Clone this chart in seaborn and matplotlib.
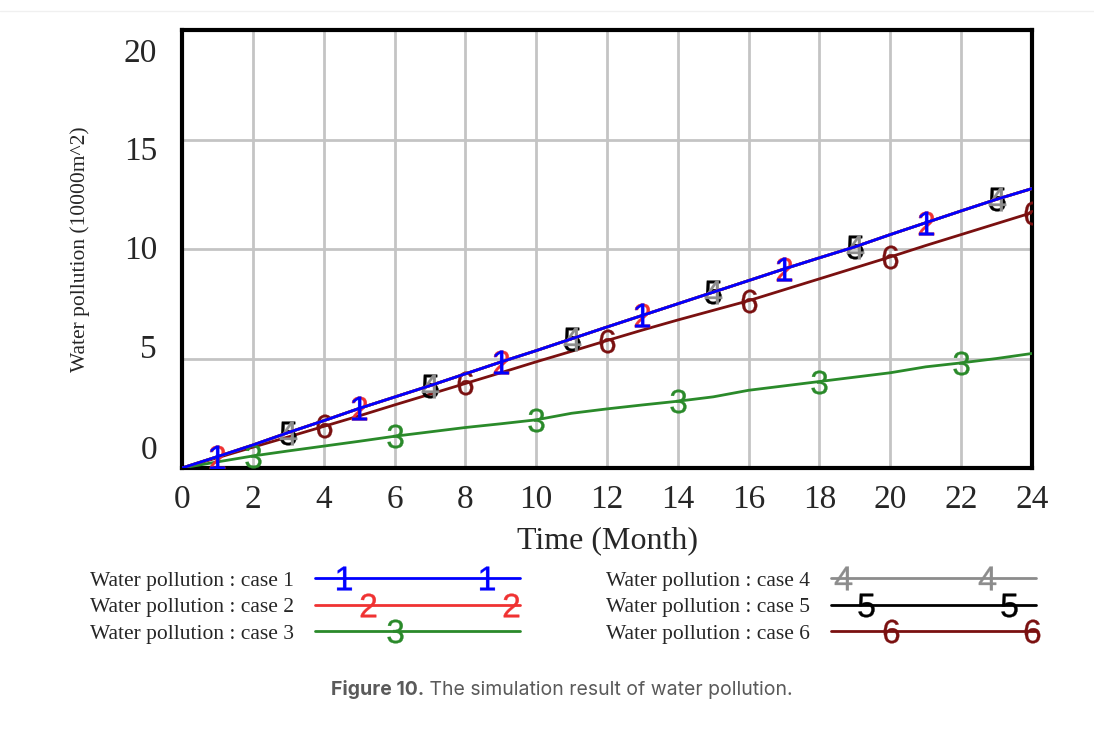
import numpy as np
import pandas as pd
import matplotlib.pyplot as plt
import matplotlib.transforms as mtransforms
from matplotlib.legend_handler import HandlerLine2D
from matplotlib.lines import Line2D
import seaborn as sns

# data (months 0..24)
months = list(range(25))
case1 = [0, 0.52, 1.05, 1.62, 2.16, 2.72, 3.24, 3.76, 4.30, 4.84, 5.36, 5.90, 6.44,
         6.97, 7.50, 8.03, 8.56, 9.09, 9.60, 10.10, 10.66, 11.20, 11.74, 12.27, 12.76]
case2 = list(case1)
case3 = [0, 0.28, 0.55, 0.78, 1.00, 1.22, 1.45, 1.65, 1.85, 2.02, 2.20, 2.50, 2.70,
         2.88, 3.05, 3.25, 3.55, 3.75, 3.95, 4.15, 4.35, 4.62, 4.80, 5.00, 5.23]
case4 = list(case1)
case5 = list(case1)
case6 = [0, 0.47, 0.95, 1.42, 1.90, 2.38, 2.88, 3.37, 3.86, 4.35, 4.85, 5.33, 5.82,
         6.30, 6.76, 7.20, 7.64, 8.14, 8.64, 9.14, 9.64, 10.16, 10.66, 11.16, 11.66]

labels = [f"Water pollution : case {i}" for i in range(1, 7)]
colors = ["#0000ff", "#f03232", "#2a8a2a", "#8c8c8c", "#000000", "#7a1010"]
series = [case1, case2, case3, case4, case5, case6]
mark_start = [1, 1, 2, 3, 3, 4]
# where the digit sits on each legend line (fraction of line length)
legend_marks = [[0.14, 0.84], [0.26, 0.96], [0.39], [0.06, 0.76], [0.17, 0.87], [0.29, 0.98]]

x_ticks = list(range(0, 25, 2))
y_ticks = [0, 5, 10, 15, 20]
y_label_shift = [0.21, 0.12, 0.02, -0.09, -0.20]   # inches, vensim-like label drift


class FracHandler(HandlerLine2D):
    # legend line with the digit markers at given fractions of its length
    def __init__(self, fracs, **kw):
        super().__init__(**kw)
        self.fracs = fracs

    def create_artists(self, legend, orig_handle, xdescent, ydescent,
                       width, height, fontsize, trans):
        y = (height - ydescent) / 2
        x0 = -xdescent
        line = Line2D([x0, x0 + width], [y, y])
        self.update_prop(line, orig_handle, legend)
        line.set_marker("")
        xm = [x0 + f * width for f in self.fracs]
        mk = Line2D(xm, [y] * len(xm))
        self.update_prop(mk, orig_handle, legend)
        mk.set_linestyle("None")
        mk.set_markevery(None)
        line.set_transform(trans)
        mk.set_transform(trans)
        return [line, mk]


sns.set_style("white")
plt.rcParams["font.family"] = ["Liberation Serif", "DejaVu Serif"]
plt.rcParams["mathtext.fontset"] = "custom"
plt.rcParams["mathtext.rm"] = "Liberation Sans"
plt.rcParams["mathtext.it"] = "Liberation Sans"

fig = plt.figure(figsize=(10.94, 7.29), dpi=100)
ax = fig.add_axes([0.1664, 0.358, 0.7769, 0.6008])

# draw in reverse so case 1 ends on top
for i in reversed(range(6)):
    df = pd.DataFrame({"month": months, "value": series[i]})
    sns.lineplot(data=df, x="month", y="value", ax=ax, color=colors[i], lw=2,
                 marker=f"${i + 1}$", markersize=17, markeredgewidth=0.25,
                 markeredgecolor=colors[i], markerfacecolor=colors[i],
                 markevery=slice(mark_start[i], None, 4), label=labels[i],
                 zorder=3 + (6 - i))

ax.set_xlim(0, 24)
ax.set_ylim(0, 20)
ax.set_xticks(x_ticks)
ax.set_yticks(y_ticks)
ax.set_xticklabels([str(t) for t in x_ticks], fontsize=24)
ax.set_yticklabels([str(t) for t in y_ticks], fontsize=24)
ax.tick_params(length=0)
ax.tick_params(axis="x", pad=12)
ax.tick_params(axis="y", pad=18)
for lab, dy in zip(ax.get_yticklabels(), y_label_shift):
    lab.set_transform(lab.get_transform() +
                      mtransforms.ScaledTranslation(0, dy, fig.dpi_scale_trans))
ax.grid(True, color="#c4c4c4", lw=2)
for s in ax.spines.values():
    s.set_visible(True)
    s.set_color("black")
    s.set_linewidth(3)

ax.set_xlabel("Time (Month)", fontsize=23, labelpad=8)
ax.set_ylabel("Water pollution (10000m^2)", fontsize=15.5, labelpad=24)

# legend below, two columns
h, l = ax.get_legend_handles_labels()
order = [l.index(lab) for lab in labels]
ax.get_legend().remove()
hs = [h[k] for k in order]
fig.legend(hs, [l[k] for k in order], ncol=2,
           loc="upper left", bbox_to_anchor=(0.072, 0.232), frameon=False,
           fontsize=15.5, handlelength=9.5, markerfirst=False, borderpad=0,
           columnspacing=4.0, labelspacing=0.3, handletextpad=1.0,
           handler_map={hh: FracHandler(fr) for hh, fr in zip(hs, legend_marks)})

# faint page rule at the top
fig.add_artist(Line2D([0, 1], [0.985, 0.985], transform=fig.transFigure,
                      color="#f0f0f0", lw=1))

fig.text(0.3876, 0.047, "Figure 10.", fontsize=14, color="#5a5a5a", ha="right",
         va="baseline", fontweight="bold", family="Inter")
fig.text(0.3876, 0.047, " The simulation result of water pollution.", fontsize=14,
         color="#5a5a5a", ha="left", va="baseline", family="Inter")

fig.savefig("out.png", dpi=100)
